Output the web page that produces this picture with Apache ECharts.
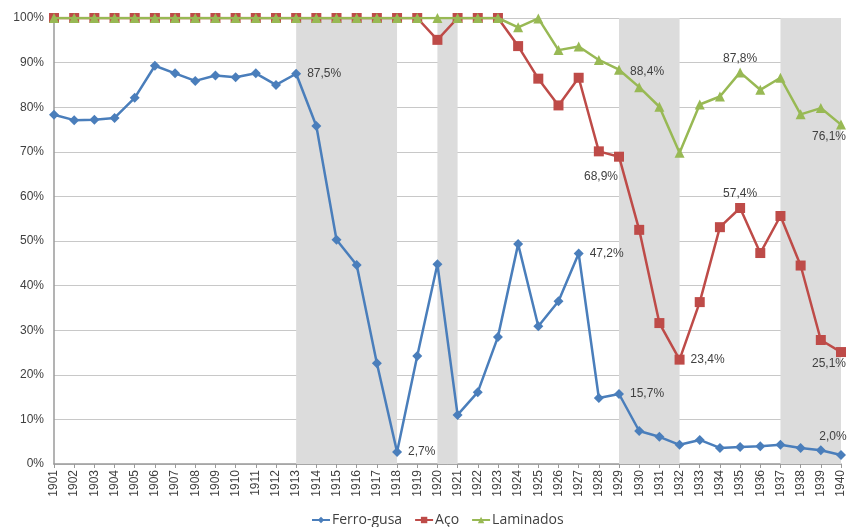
<!DOCTYPE html>
<html><head><meta charset="utf-8">
<script src="https://cdn.jsdelivr.net/npm/echarts@6/dist/echarts.min.js"></script>
<style>html,body{margin:0;padding:0;background:#fff}#c{width:847px;height:527px}</style>
</head><body><div id="c"></div>
<script>
const years = [];
for (let y = 1901; y <= 1940; y++) years.push(String(y));
const ferroGusa = [78.3,77.1,77.2,77.6,82.1,89.3,87.6,85.9,87.1,86.7,87.6,85.0,87.5,75.8,50.3,44.6,22.6,2.7,24.2,44.8,11.0,16.1,28.5,49.3,30.9,36.5,47.2,14.8,15.7,7.4,6.1,4.3,5.4,3.6,3.8,4.0,4.3,3.6,3.1,2.0];
const aco = [100,100,100,100,100,100,100,100,100,100,100,100,100,100,100,100,100,100,100,95.1,100,100,100,93.7,86.4,80.4,86.6,70.1,68.9,52.5,31.6,23.4,36.3,53.1,57.4,47.3,55.6,44.5,27.8,25.1];
const laminados = [100,100,100,100,100,100,100,100,100,100,100,100,100,100,100,100,100,100,100,100,100,100,100,97.9,99.9,92.8,93.6,90.6,88.4,84.5,80.1,69.8,80.6,82.4,87.8,83.9,86.6,78.4,79.8,76.1];
const shadedPeriods = [['1913','1918'],['1920','1921'],['1929','1932'],['1937','1940']];
// which points carry a value label, and where
const ferroLabels = {'1913':'right','1918':'right','1927':'right','1929':'right','1940':'topLeft'};
const acoLabels = {'1929':'bottomLeft','1932':'right','1935':'top','1940':'bottomLeft2'};
const lamLabels = {'1929':'rightLow','1935':'top','1940':'bottomLeft2'};

function fmt(v){ return v.toFixed(1).replace('.', ',') + '%'; }
function labelCfg(pos){
  const base = {show:true, color:'#404040', fontSize:12, fontFamily:'Liberation Sans, Arial, sans-serif', formatter:p=>fmt(p.value)};
  if (pos==='right') return Object.assign(base,{position:'right',distance:6});
  if (pos==='rightLow') return Object.assign(base,{position:'right',distance:6,offset:[0,2]});
  if (pos==='top') return Object.assign(base,{position:'top',distance:3});
  if (pos==='topLeft') return Object.assign(base,{position:'top',offset:[-8,-2]});
  if (pos==='bottomLeft') return Object.assign(base,{position:'bottom',offset:[-18,4]});
  if (pos==='bottomLeft2') return Object.assign(base,{position:'bottom',offset:[-12,-4]});
  return base;
}
function build(values, labels){
  return values.map((v,i)=>{
    const yr = years[i];
    if (labels[yr]) return {value:v, label:labelCfg(labels[yr])};
    return v;
  });
}
const chart = echarts.init(document.getElementById('c'));
const font = 'Liberation Sans, Arial, sans-serif';
chart.setOption({
  animation:false,
  textStyle:{fontFamily:font},
  grid:{left:54,right:2,top:18,bottom:63,containLabel:false},
  legend:{top:508,left:306,itemGap:12,itemWidth:18,itemHeight:8,
    textStyle:{fontSize:14,color:'#404040',fontFamily:'Open Sans, sans-serif',padding:[0,0,0,-3]},
    data:['Ferro-gusa','Aço','Laminados']},
  xAxis:{type:'category',data:years,boundaryGap:false,
    axisLine:{lineStyle:{color:'#9a9a9a',width:1.5}},
    axisTick:{show:true,alignWithLabel:true,lineStyle:{color:'#9a9a9a'},length:4},
    axisLabel:{rotate:90,fontSize:12,color:'#404040',interval:0,margin:6,fontFamily:font},
    splitLine:{show:false}},
  yAxis:{type:'value',min:0,max:100,interval:10,
    axisLine:{show:true,lineStyle:{color:'#9a9a9a',width:1.5}},
    axisTick:{show:false},
    axisLabel:{formatter:'{value}%',fontSize:12,color:'#404040',margin:10,fontFamily:font},
    splitLine:{lineStyle:{color:'#c8c8c8',width:1}}},
  series:[
    {name:'Ferro-gusa',type:'line',data:build(ferroGusa,ferroLabels),
      symbol:'diamond',symbolSize:10,
      lineStyle:{color:'#4a7ebb',width:2.5},itemStyle:{color:'#4a7ebb'},z:4,
      markArea:{silent:true,itemStyle:{color:'#dcdcdc'},
        data:shadedPeriods.map(p=>[{xAxis:p[0]},{xAxis:p[1]}])}},
    {name:'Aço',type:'line',data:build(aco,acoLabels),
      symbol:'rect',symbolSize:10,
      lineStyle:{color:'#be4b48',width:2.5},itemStyle:{color:'#be4b48'},z:3},
    {name:'Laminados',type:'line',data:build(laminados,lamLabels),
      symbol:'triangle',symbolSize:10,
      lineStyle:{color:'#98b954',width:2.5},itemStyle:{color:'#98b954'},z:5}
  ]
});
</script></body></html>
